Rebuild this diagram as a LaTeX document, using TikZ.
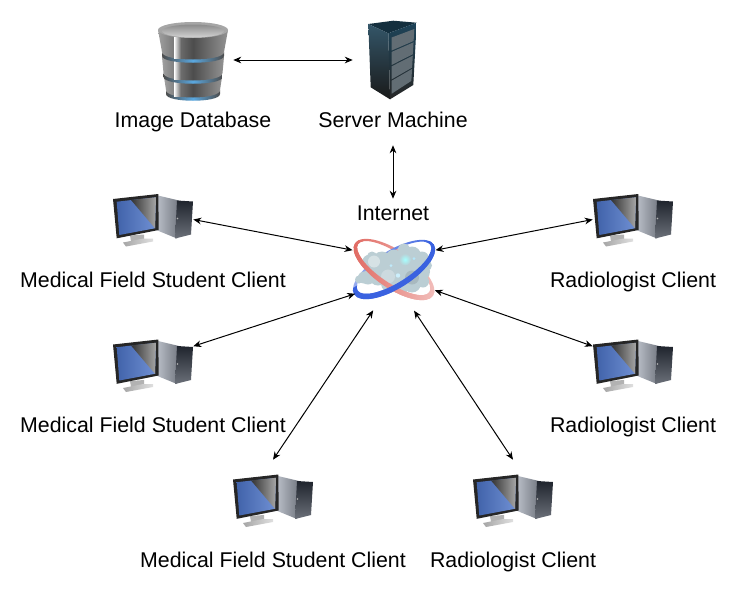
\documentclass[tikz,border=0pt]{standalone}
\usepackage{fontspec}
\setmainfont{Liberation Sans}
\usetikzlibrary{arrows.meta}
\definecolor{screenblue}{HTML}{4C74C8}
\definecolor{towerlight}{HTML}{A4ABB8}
\definecolor{towerdark}{HTML}{2C3340}
\definecolor{rackblue}{HTML}{1D4358}
\definecolor{dbblue}{HTML}{5AA8E0}
\definecolor{ringred}{HTML}{E0675F}
\definecolor{ringblue}{HTML}{3A62E0}
\definecolor{cloudgray}{HTML}{BBCED4}
\tikzset{
  iconbox/.style={minimum size=60pt,inner sep=0pt},
  caption/.style={font=\fontsize{16}{19}\selectfont,inner sep=0pt,text height=13pt,text depth=2pt},
  link/.style={{Stealth[length=6pt,width=5pt]}-{Stealth[length=6pt,width=5pt]},line width=0.75pt},
  pcicon/.pic={
    % tower
    \shade[left color=towerlight!70!white,right color=towerlight!70!black] (5,-24) -- (26,-19) -- (24,19) -- (2,10) -- cycle;
    \shade[top color=towerdark!70!black,bottom color=towerdark!70!white] (24,-19) -- (40,-18) -- (38,15) -- (22,19) -- cycle;
    \fill[white!70!black] (24.5,-1) circle (0.8);
    % stand
    \fill[gray!60] (-23,16) -- (-9,15) -- (-9,20) -- (-22,22) -- cycle;
    \shade[left color=gray!70,right color=gray!25] (-30,23) -- (-10,19) -- (0,19) -- (0,22) -- (-27,27) -- cycle;
    % monitor
    \fill[black!85] (-40,-20.5) -- (5.3,-25.5) -- (5.7,10.5) -- (-36.3,18.8) -- cycle;
    \shade[left color=screenblue!85!black,right color=screenblue!80!white] (-36.3,-17.8) -- (3,-22.2) -- (2,8.8) -- (-33.7,15.5) -- cycle;
    \shade[shading angle=-20,left color=black!80,right color=gray!70] (-22,-19.5) -- (3,-22.2) -- (2,8.8) -- cycle;
  },
  dbicon/.pic={
    \foreach \ya/\wa/\yb/\wb in {17/29/30/27,-3/31/13/29.5,-30/35/-8/31}{
      \shade[left color=black!70,right color=black!70,middle color=dbblue] (-\wb,\yb) .. controls (-\wb,\yb+8) and (\wb,\yb+8) .. (\wb,\yb) -- (\wb,\yb+4) .. controls (\wb,\yb+13) and (-\wb,\yb+13) .. (-\wb,\yb+4) -- cycle;
      \shade[left color=gray!75,right color=gray!85,middle color=black!70] (-\wa,\ya) -- (-\wb,\yb) .. controls (-\wb,\yb+10) and (\wb,\yb+10) .. (\wb,\yb) -- (\wa,\ya) -- cycle;
      \shade[left color=white,right color=black!60] (-19,\ya) rectangle (-12,{\yb+6.5});
    }
    \fill[gray!70] (0,-30) ellipse[x radius=35,y radius=8];
    \shade[top color=gray!90,bottom color=gray!35] (0,-29) ellipse[x radius=31,y radius=6.5];
  },
  rackicon/.pic={
    \fill[rackblue!70!black] (-24.7,-36) -- (0.3,-39.3) -- (23.7,-37.3) -- (-4.7,-26.7) -- cycle;
    \shade[top color=rackblue!90!white,bottom color=black!90] (-24.7,-36) -- (-4.7,-26.7) -- (-3,39.3) -- (-22.3,27.3) -- cycle;
    \shade[top color=rackblue,bottom color=black!85] (-4.7,-26.7) -- (23.7,-37.3) -- (20.3,25) -- (-3,39.3) -- cycle;
    \foreach \i in {0,1,2,3}{
      \fill[gray!70!rackblue] (-1.3,{-22.5+\i*14.4}) -- ({21.3-0.75*\i},{-31+\i*13.3}) -- ({20.6-0.75*\i},{-19+\i*13.3}) -- (-1.3,{-9.5+\i*14.4}) -- cycle;
    }
  },
  redring/.style={even odd rule,left color=ringred,right color=ringred!40!white},
  bluering/.style={even odd rule,left color=ringblue!50!white,right color=ringblue},
  cloudicon/.pic={
    % back of the rings
    \begin{scope}[rotate=-34]
      \shade[redring] (0,0) ellipse[x radius=47,y radius=19] (-1,-1) ellipse[x radius=43,y radius=15];
    \end{scope}
    \begin{scope}[rotate=32]
      \shade[bluering] (0,0) ellipse[x radius=47,y radius=19] (1,-1.5) ellipse[x radius=43,y radius=15];
    \end{scope}
    \foreach \cx/\cy/\r in {-35/10/4,-30/8/6,-24/-7/8,-22/-13/5,-12/-8/10,0/-12/8,10/-20/6,18/-14/9,28/-11/7,33/-4/5,26/2/10,29/12/6,18/14/9,8/17/7,-4/14/9,-16/7/9,-26/8/7,0/0/18,-10/2/14,12/0/16}{
      \fill[cloudgray] (\cx,\cy) circle (\r);
    }
    \fill[cloudgray!60!white] (-20,-8) circle (6);
    \fill[cloudgray!75!white] (-6,7) circle (7);
    \fill[cloudgray!90!black] (18,8) circle (7);
    \shade[inner color=cyan!35!white,outer color=cloudgray] (11,-10) circle (6);
    \fill[cyan!30!white] (20,-11) circle (1.5);
    \fill[cyan!25!white] (-3,-4) circle (1.5);
    \fill[white!80!cyan] (4,6) circle (2.2);
    \fill[cyan!25!white] (-25,0) circle (2);
    % front of the rings
    \begin{scope}[rotate=-34]
      \clip (-50,-6) rectangle (50,25);
      \shade[redring] (0,0) ellipse[x radius=47,y radius=19] (-1,-1) ellipse[x radius=43,y radius=15];
    \end{scope}
    \begin{scope}[rotate=32]
      \clip (-50,-6) rectangle (50,25);
      \shade[even odd rule,left color=ringblue,right color=ringblue] (0,0) ellipse[x radius=47,y radius=19] (1,-1.5) ellipse[x radius=43,y radius=15];
    \end{scope}
  },
}
\begin{document}
\begin{tikzpicture}[x=0.75pt,y=-0.75pt]
\useasboundingbox (0,0) rectangle (738,593);
\node[iconbox] (db) at (193,60) {};
\node[iconbox] (server) at (393,60) {};
\node[circle,minimum size=68.25pt,inner sep=0pt] (inet) at (394,269.5) {};
\pic at (db) {dbicon};
\pic at (server) {rackicon};
\pic at (inet) {cloudicon};
\node[caption] (dblabel) at (193,120) {Image Database};
\node[caption,minimum height=37.5pt] (serverlabel) at (393,120) {Server Machine};
\node[caption,minimum height=21pt] (inetlabel) at (393,213) {Internet};
\foreach \nm/\x/\y/\ly/\txt in {
  1/153/219.5/280/Medical Field Student Client,
  2/153/365/425/Medical Field Student Client,
  3/273/500/560/Medical Field Student Client,
  4/513/500/560/Radiologist Client,
  5/633/365/425/Radiologist Client,
  6/633/219.5/280/Radiologist Client}{
  \node[iconbox] (pc\nm) at (\x,\y) {};
  \pic at (pc\nm) {pcicon};
  \node[caption] (pclabel\nm) at (\x,\ly) {\txt};
}
\draw[link] (db.east) -- (server.west);
\draw[link] (serverlabel.south) -- (inetlabel.north);
\draw[link] (pc1.east) -- (inet.155);
\draw[link] (pc2.25) -- (inet.212);
\draw[link] (pc3.north) -- (inet.243);
\draw[link] (pc4.north) -- (inet.296);
\draw[link] (pc5.155) -- (inet.333);
\draw[link] (pc6.west) -- (inet.25);
\end{tikzpicture}
\end{document}
